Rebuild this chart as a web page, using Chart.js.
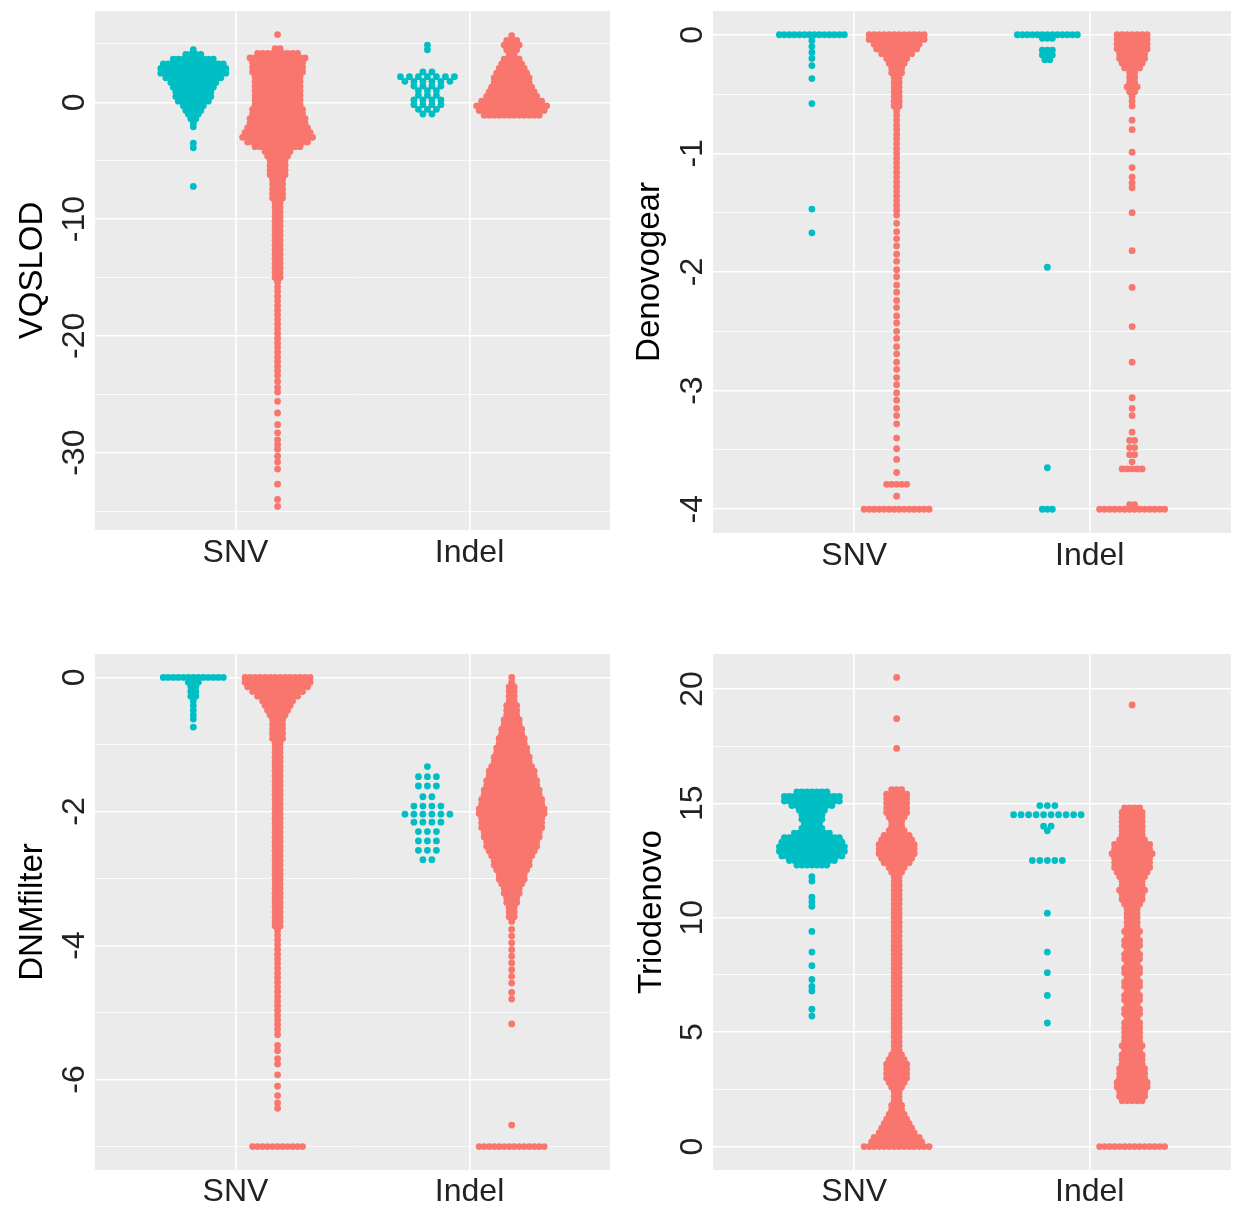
<!DOCTYPE html>
<html><head><meta charset="utf-8">
<script src="https://cdn.jsdelivr.net/npm/chart.js@4.4.1/dist/chart.umd.min.js"></script>
<style>
html,body{margin:0;padding:0;background:#fff;}
body{width:1241px;height:1210px;position:relative;overflow:hidden;}
canvas{position:absolute;}
</style></head><body>
<canvas id="c1" width="620" height="600" style="left:0px;top:0px"></canvas>
<canvas id="c2" width="621" height="600" style="left:620px;top:0px"></canvas>
<canvas id="c3" width="620" height="600" style="left:0px;top:610px"></canvas>
<canvas id="c4" width="621" height="600" style="left:620px;top:610px"></canvas>
<script>
// ---------------- data (rows of [value, number of points at that value]) ----------------
const categories = ['SNV', 'Indel'];

// VQSLOD
const vqMajor = [0, -10, -20, -30];
const vqMinor = [5, -5, -15, -25, -35];
const vqSnvCyan = [[4.5,1],[4.1,4],[3.7,9],[3.3,13],[2.9,14],[2.5,14],[2.1,12],[1.7,10],[1.3,9],[0.9,8],[0.5,8],[0.1,7],[-0.3,5],[-0.7,4],[-1.0,3],[-1.4,2],[-1.8,1],[-2.1,1],[-3.5,1],[-3.9,1],[-7.2,1]];
const vqSnvRed = [[5.8,1],[4.6,2],[4.2,9],[3.8,12],[3.4,11],[3.0,11],[2.6,11],[2.2,10],[1.8,10],[1.4,10],[1.0,10],[0.6,10],[0.2,10],[-0.2,10],[-0.6,11],[-1.0,11],[-1.4,12],[-1.8,12],[-2.2,13],[-2.6,14],[-3.0,15],[-3.4,13],[-3.8,10],[-4.2,6],[-4.6,5],[-5.0,4],[-5.4,4],[-5.8,4],[-6.2,4],[-6.6,3],[-7.0,3],[-7.4,3],[-7.8,3],[-8.2,3],
  [-8.6,2],[-9.0,2],[-9.4,2],[-9.8,2],[-10.2,2],[-10.6,2],[-11.0,2],[-11.4,2],[-11.8,2],[-12.2,2],[-12.6,2],[-13.0,2],[-13.4,2],[-13.8,2],[-14.2,2],[-14.6,2],[-15.0,2],
  [-15.4,1],[-15.8,1],[-16.2,1],[-16.6,1],[-17.0,1],[-17.4,1],[-17.8,1],[-18.2,1],[-18.6,1],[-19.0,1],[-19.4,1],[-19.8,1],[-20.2,1],[-20.6,1],[-21.0,1],[-21.4,1],[-21.8,1],[-22.2,1],[-22.6,1],[-23.0,1],[-23.4,1],
  [-23.9,1],[-24.4,1],[-24.8,1],[-25.6,1],[-26.6,1],[-27.6,1],[-28.3,1],[-28.9,1],[-29.3,1],[-29.7,1],[-30.3,1],[-30.8,1],[-31.4,1],[-32.7,1],[-34.0,1],[-34.6,1]];
const vqIndelCyan = [[4.9,1],[4.5,1],[2.6,2],[2.2,7],[1.8,6],[1.4,4],[1.0,3],[0.6,3],[0.2,4],[-0.2,4],[-0.6,3],[-1.0,2]];
const vqIndelRed = [[5.7,1],[5.3,3],[4.9,4],[4.5,3],[4.1,2],[3.7,4],[3.3,5],[2.9,6],[2.5,7],[2.1,8],[1.7,8],[1.3,9],[0.9,10],[0.5,11],[0.1,13],[-0.3,15],[-0.7,14],[-1.1,12]];

// Denovogear
const dgMajor = [0, -1, -2, -3, -4];
const dgMinor = [-0.5, -1.5, -2.5, -3.5];
const dgSnvCyan = [[0,14],[-0.05,1],[-0.1,1],[-0.15,1],[-0.2,1],[-0.26,1],[-0.37,1],[-0.58,1],[-1.47,1],[-1.67,1]];
const dgSnvRed = [[0,12],[-0.04,12],[-0.08,10],[-0.12,9],[-0.16,7],[-0.2,5],[-0.24,4],[-0.28,3],[-0.32,3],[-0.36,2],[-0.4,2],[-0.44,2],[-0.48,2],[-0.52,2],[-0.56,2],[-0.6,2],
  [-0.64,1],[-0.68,1],[-0.72,1],[-0.76,1],[-0.8,1],[-0.84,1],[-0.88,1],[-0.92,1],[-0.96,1],[-1.0,1],[-1.04,1],[-1.08,1],[-1.12,1],[-1.16,1],[-1.2,1],[-1.24,1],[-1.28,1],[-1.32,1],[-1.36,1],[-1.4,1],[-1.44,1],[-1.48,1],[-1.52,1],
  [-1.59,1],[-1.66,1],[-1.72,1],[-1.78,1],[-1.85,1],[-1.91,1],[-1.98,1],[-2.04,1],[-2.11,1],[-2.17,1],[-2.24,1],[-2.3,1],[-2.37,1],[-2.43,1],[-2.5,1],[-2.56,1],[-2.63,1],[-2.69,1],[-2.76,1],[-2.82,1],[-2.89,1],[-2.95,1],[-3.02,1],[-3.08,1],[-3.15,1],[-3.21,1],
  [-3.28,1],[-3.4,1],[-3.49,1],[-3.58,1],[-3.69,1],[-3.79,5],[-3.89,1],[-4,14]];
const dgIndelCyan = [[0,13],[-0.03,3],[-0.13,3],[-0.17,3],[-0.21,2],[-1.96,1],[-3.65,1],[-4,3]];
const dgIndelRed = [[0,7],[-0.04,7],[-0.08,7],[-0.12,7],[-0.16,6],[-0.2,6],[-0.24,5],[-0.28,4],[-0.32,2],[-0.36,2],[-0.4,2],[-0.44,3],[-0.48,2],[-0.52,1],[-0.56,1],[-0.6,1],[-0.72,1],[-0.8,1],[-0.99,1],[-1.12,1],[-1.2,1],[-1.25,1],[-1.29,1],[-1.5,1],[-1.82,1],[-2.13,1],[-2.46,1],[-2.76,1],[-3.06,1],[-3.15,1],[-3.21,1],[-3.35,1],[-3.42,2],[-3.48,2],[-3.54,2],[-3.6,1],[-3.66,5],[-3.96,2],[-4,14]];

// DNMfilter
const dnMajor = [0, -2, -4, -6];
const dnMinor = [-1, -3, -5, -7];
const dnSnvCyan = [[0,13],[-0.07,3],[-0.14,2],[-0.21,2],[-0.28,2],[-0.35,1],[-0.42,1],[-0.49,1],[-0.56,1],[-0.62,1],[-0.74,1]];
const dnSnvRed = [[0,14],[-0.07,14],[-0.14,13],[-0.21,11],[-0.28,9],[-0.35,7],[-0.42,6],[-0.49,5],[-0.56,4],[-0.63,3],[-0.7,3],[-0.77,3],[-0.84,3],[-0.91,3],
  [-0.98,2],[-1.05,2],[-1.12,2],[-1.19,2],[-1.26,2],[-1.33,2],[-1.4,2],[-1.47,2],[-1.54,2],[-1.61,2],[-1.68,2],[-1.75,2],[-1.82,2],[-1.89,2],[-1.96,2],[-2.03,2],[-2.1,2],[-2.17,2],[-2.24,2],[-2.31,2],[-2.38,2],[-2.45,2],[-2.52,2],[-2.59,2],[-2.66,2],[-2.73,2],[-2.8,2],[-2.87,2],[-2.94,2],[-3.01,2],[-3.08,2],[-3.15,2],[-3.22,2],[-3.29,2],[-3.36,2],[-3.43,2],[-3.5,2],[-3.57,2],[-3.64,2],[-3.71,2],
  [-3.78,1],[-3.85,1],[-3.92,1],[-3.99,1],[-4.06,1],[-4.13,1],[-4.2,1],[-4.27,1],[-4.34,1],[-4.41,1],[-4.48,1],[-4.55,1],[-4.62,1],[-4.69,1],[-4.76,1],[-4.83,1],[-4.9,1],[-4.97,1],[-5.04,1],[-5.11,1],[-5.18,1],[-5.25,1],
  [-5.33,1],[-5.49,1],[-5.57,1],[-5.69,1],[-5.77,1],[-5.93,1],[-6.1,1],[-6.24,1],[-6.35,1],[-6.43,1],[-7,11]];
const dnIndelCyan = [[-1.33,1],[-1.48,3],[-1.62,3],[-1.78,2],[-1.92,4],[-2.04,6],[-2.16,4],[-2.3,3],[-2.44,3],[-2.58,3],[-2.72,2]];
const dnIndelRed = [[0,1],[-0.07,1],[-0.14,2],[-0.21,2],[-0.28,2],[-0.35,2],[-0.42,3],[-0.49,3],[-0.56,3],[-0.63,4],[-0.7,4],[-0.77,5],[-0.84,5],[-0.91,6],[-0.98,6],[-1.05,7],[-1.12,7],[-1.19,8],[-1.26,8],[-1.33,9],[-1.4,10],[-1.47,10],[-1.54,11],[-1.61,11],[-1.68,12],[-1.75,12],[-1.82,13],[-1.89,13],[-1.96,14],[-2.03,14],[-2.1,13],[-2.17,13],[-2.24,13],[-2.31,12],[-2.38,12],[-2.45,11],[-2.52,11],[-2.59,10],[-2.66,9],[-2.73,8],[-2.8,8],[-2.87,7],[-2.94,6],[-3.01,6],[-3.08,5],[-3.15,4],[-3.22,4],[-3.29,3],[-3.36,3],[-3.43,2],[-3.5,2],[-3.57,2],[-3.64,1],
  [-3.76,1],[-3.86,1],[-3.96,1],[-4.06,1],[-4.16,1],[-4.26,1],[-4.36,1],[-4.46,1],[-4.56,1],[-4.7,1],[-4.8,1],[-5.17,1],[-6.68,1],[-7,14]];

// Triodenovo
const tdMajor = [0, 5, 10, 15, 20];
const tdMinor = [2.5, 7.5, 12.5, 17.5];
const tdSnvCyan = [[15.5,7],[15.3,12],[15.1,12],[14.9,9],[14.7,6],[14.5,5],[14.3,5],[14.1,4],[13.9,5],[13.7,8],[13.5,12],[13.3,13],[13.1,14],[12.9,14],[12.7,13],[12.5,10],[12.3,7],[11.8,1],[11.6,1],[10.9,1],[10.7,1],[10.5,1],[9.4,1],[8.5,1],[7.9,1],[7.3,1],[7.0,1],[6.8,1],[6.0,1],[5.7,1]];
const tdSnvRed = [[20.5,1],[18.7,1],[17.4,1],
  [15.6,3],[15.4,5],[15.2,5],[15.0,5],[14.8,5],[14.6,5],[14.4,4],[14.2,3],[14.0,3],[13.8,4],[13.6,6],[13.4,7],[13.2,8],[13.0,8],[12.8,8],[12.6,7],[12.4,6],[12.2,4],[12.0,3],
  [11.8,2],[11.6,2],[11.4,2],[11.2,2],[11.0,2],[10.8,2],[10.6,2],[10.4,2],[10.2,2],[10.0,2],[9.8,2],[9.6,2],[9.4,2],[9.2,2],[9.0,2],[8.8,2],[8.6,2],[8.4,2],[8.2,2],[8.0,2],[7.8,2],[7.6,2],[7.4,2],[7.2,2],[7.0,2],[6.8,2],[6.6,2],[6.4,2],[6.2,2],[6.0,2],[5.8,2],[5.6,2],[5.4,2],[5.2,2],[5.0,2],[4.8,2],[4.6,2],[4.4,2],[4.2,2],
  [4.0,3],[3.8,4],[3.6,5],[3.4,5],[3.2,5],[3.0,5],[2.8,4],[2.6,3],[2.4,2],[2.2,2],[2.0,2],[1.8,3],[1.6,3],[1.4,4],[1.2,5],[1.0,6],[0.8,7],[0.6,8],[0.4,10],[0.2,11],[0,14]];
const tdIndelCyan = [[14.9,3],[14.5,10],[14.0,2],[13.8,1],[12.5,5],[10.2,1],[8.5,1],[7.6,1],[6.6,1],[5.4,1]];
const tdIndelRed = [[19.3,1],
  [14.8,4],[14.6,5],[14.4,5],[14.2,5],[14.0,5],[13.8,5],[13.6,5],[13.4,6],[13.2,8],[13.0,8],[12.8,9],[12.6,8],[12.4,8],[12.2,8],[12.0,7],[11.8,6],[11.6,5],[11.4,5],[11.2,6],[11.0,5],[10.8,5],[10.6,4],[10.4,3],[10.2,3],[10.0,3],[9.8,3],[9.6,3],
  [9.4,4],[9.2,3],[9.0,4],[8.8,4],[8.6,3],[8.4,4],[8.2,4],[8.0,3],[7.8,4],[7.6,4],[7.4,3],[7.2,4],[7.0,4],[6.8,3],[6.6,4],[6.4,4],[6.2,3],[6.0,4],[5.8,4],[5.6,3],[5.4,4],[5.2,4],[5.0,4],[4.8,4],[4.6,4],[4.4,5],[4.2,4],[4.0,5],
  [3.8,5],[3.6,5],[3.4,6],[3.2,6],[3.0,6],[2.8,7],[2.6,7],[2.4,6],[2.2,6],[2.0,5],[0,14]];

// ---------------- drawing ----------------
const FONT = '"Liberation Sans", Arial, Helvetica, sans-serif';
const CYAN = '#00BFC4', RED = '#F8766D';
const DODGE = 0.18;

const panels = [
  { id:'c1', title:'VQSLOD', major:vqMajor, minor:vqMinor,
    groups:[{rows:vqSnvCyan,cat:0,col:CYAN,gap:5},{rows:vqSnvRed,cat:0,col:RED,gap:5},{rows:vqIndelCyan,cat:1,col:CYAN,gap:9},{rows:vqIndelRed,cat:1,col:RED,gap:5}],
    L:{w:620,top:11,right:10,yW:95,xH:70,tickPad:-3,titlePad:13,xPad:4} },
  { id:'c2', title:'Denovogear', major:dgMajor, minor:dgMinor,
    groups:[{rows:dgSnvCyan,cat:0,col:CYAN,gap:5},{rows:dgSnvRed,cat:0,col:RED,gap:5},{rows:dgIndelCyan,cat:1,col:CYAN,gap:5},{rows:dgIndelRed,cat:1,col:RED,gap:5}],
    L:{w:621,top:11,right:10,yW:93,xH:67,tickPad:6,titlePad:10,xPad:4} },
  { id:'c3', title:'DNMfilter', major:dnMajor, minor:dnMinor,
    groups:[{rows:dnSnvCyan,cat:0,col:CYAN,gap:5},{rows:dnSnvRed,cat:0,col:RED,gap:5},{rows:dnIndelCyan,cat:1,col:CYAN,gap:9},{rows:dnIndelRed,cat:1,col:RED,gap:5}],
    L:{w:620,top:44,right:10,yW:95,xH:40,tickPad:6,titlePad:13,xPad:3} },
  { id:'c4', title:'Triodenovo', major:tdMajor, minor:tdMinor,
    groups:[{rows:tdSnvCyan,cat:0,col:CYAN,gap:5},{rows:tdSnvRed,cat:0,col:RED,gap:5},{rows:tdIndelCyan,cat:1,col:CYAN,gap:7.5},{rows:tdIndelRed,cat:1,col:RED,gap:5}],
    L:{w:621,top:44,right:10,yW:93,xH:40,tickPad:2,titlePad:12,xPad:3} }
];

function swarm(rows, center, dx) {
  const pts = [];
  rows.forEach(([y, n]) => {
    for (let i = 0; i < n; i++) pts.push({x: center + (i - (n - 1) / 2) * dx, y: y});
  });
  return pts;
}

const panelBg = {
  id: 'panelBg',
  beforeDraw(chart) {
    const {ctx, chartArea: a} = chart;
    ctx.save();
    ctx.fillStyle = '#EBEBEB';
    ctx.fillRect(a.left, a.top, a.right - a.left, a.bottom - a.top);
    ctx.restore();
  }
};

panels.forEach(p => {
  const L = p.L;
  const pxPerUnit = (L.w - L.right - L.yW) / 2.2;
  const datasets = p.groups.map(g => ({
    data: swarm(g.rows, g.cat + 1 + (g.col === CYAN ? -DODGE : DODGE), g.gap / pxPerUnit),
    backgroundColor: g.col, borderWidth: 0, pointRadius: 3.4, pointHoverRadius: 3.4
  }));
  const ys = p.groups.flatMap(g => g.rows.map(r => r[0]));
  const lo = Math.min(...ys), hi = Math.max(...ys), ex = (hi - lo) * 0.05;
  const allTicks = [...p.major, ...p.minor].sort((a, b) => a - b);
  new Chart(document.getElementById(p.id), {
    type: 'scatter',
    data: { datasets },
    plugins: [panelBg],
    options: {
      responsive: false, animation: false, events: [],
      layout: { padding: { top: L.top, right: L.right, left: 0, bottom: 0 } },
      plugins: { legend: { display: false }, tooltip: { enabled: false } },
      scales: {
        x: {
          type: 'linear', min: 0.4, max: 2.6,
          afterBuildTicks: s => { s.ticks = [{value: 1}, {value: 2}]; },
          ticks: { callback: v => categories[Math.round(v) - 1] || '', maxRotation: 0, autoSkip: false,
                   padding: L.xPad, font: { family: FONT, size: 32 }, color: '#222' },
          grid: { color: '#FFFFFF', lineWidth: 1.6, drawTicks: false },
          border: { display: false },
          afterFit: s => { s.height = L.xH; s.paddingLeft = 0; s.paddingRight = 0; }
        },
        y: {
          min: lo - ex, max: hi + ex,
          afterBuildTicks: s => { s.ticks = allTicks.map(v => ({value: v})); },
          ticks: { callback: v => p.major.includes(v) ? String(v) : '', minRotation: 90, maxRotation: 90,
                   crossAlign: 'center', autoSkip: false, padding: L.tickPad,
                   font: { family: FONT, size: 32 }, color: '#222' },
          grid: { color: '#FFFFFF', lineWidth: c => (c.tick && p.major.includes(c.tick.value)) ? 1.6 : 0.8, drawTicks: false },
          border: { display: false },
          title: { display: true, text: p.title, color: '#000', font: { family: FONT, size: 33 },
                   padding: { top: L.titlePad, bottom: 0 } },
          afterFit: s => { s.width = L.yW; s.paddingTop = 0; s.paddingBottom = 0; }
        }
      }
    }
  });
});
</script>
</body></html>
